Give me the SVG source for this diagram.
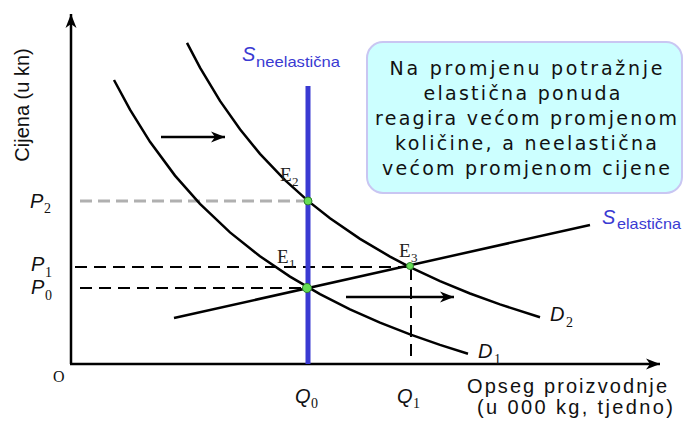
<svg xmlns="http://www.w3.org/2000/svg" width="685" height="421" viewBox="0 0 685 421">
<style>
.ax{stroke:#000;stroke-width:2.5;fill:none}
.curve{stroke:#000;stroke-width:2.5;fill:none}
.dash{stroke:#000;stroke-width:2;stroke-dasharray:12 7;fill:none}
.gdash{stroke:#b0b0b0;stroke-width:3;stroke-dasharray:12 6;fill:none}
.lab{font-family:"Liberation Sans",Arial,sans-serif;font-style:italic;font-size:20px;fill:#111}
.sub{font-family:"Liberation Serif","Times New Roman",serif;font-size:14px;fill:#111}
.e{font-family:"Liberation Serif","Times New Roman",serif;font-size:19px;fill:#222}
.esub{font-family:"Liberation Serif","Times New Roman",serif;font-size:13px;fill:#222}
.blue{font-family:"Liberation Sans",Arial,sans-serif;fill:#3a3ad2}
.ttl{font-family:"Liberation Sans",Arial,sans-serif;font-size:20px;fill:#111}
.box{font-family:"DejaVu Sans","Noto Sans",sans-serif;font-size:19px;fill:#111;text-anchor:middle}
.dot{fill:#66dd55;stroke:#2f7f2f;stroke-width:1}
</style>
<defs>
<marker id="ah" markerUnits="userSpaceOnUse" markerWidth="16" markerHeight="12" refX="14" refY="6" orient="auto">
<path d="M0,0.5 L14,6 L0,11.5 L4,6 Z" fill="#000"/>
</marker>
</defs>

<g id="axes">
<line class="ax" x1="71" y1="364" x2="71" y2="14" marker-end="url(#ah)"/>
<line class="ax" x1="70" y1="364" x2="660" y2="364" marker-end="url(#ah)"/>
<text x="53" y="382" style="font-family:'Liberation Serif',serif;font-size:16px;fill:#111">O</text>
<text class="ttl" transform="translate(29,105) rotate(-90)" text-anchor="middle">Cijena (u kn)</text>
<text class="ttl" x="467" y="393" font-size="22" textLength="200" lengthAdjust="spacing">Opseg proizvodnje</text>
<text class="ttl" x="477" y="414" font-size="22" textLength="196" lengthAdjust="spacing">(u 000 kg, tjedno)</text>
</g>

<g id="guides">
<line class="gdash" x1="80" y1="201" x2="305" y2="201"/>
<line class="dash" x1="75" y1="267" x2="410" y2="267"/>
<line class="dash" x1="80" y1="288" x2="305" y2="288"/>
<line class="dash" x1="411" y1="268" x2="411" y2="364"/>
</g>

<g id="D1">
<path class="curve" d="M114,80 L130,109.7 L150,141.8 L175,175.6 L200,203.9 L230,232.4 L260,256.3 L290,276.6 L320,294.1 L350,309.3 L380,322.6 L410,334.4 L440,344.9 L468,353.7"/>
<text class="lab" x="478" y="358">D</text><text class="sub" x="494" y="364">1</text>
</g>

<g id="D2">
<path class="curve" d="M187,42.8 L200,67.7 L220,100.9 L240,129.3 L260,153.8 L285,180.1 L308,200.9 L330,218.3 L360,238.9 L390,256.6 L410,267.1 L440,281.1 L470,293.5 L500,304.4 L540,317.3"/>
<text class="lab" x="550" y="321">D</text><text class="sub" x="566" y="327">2</text>
</g>

<g id="S_elasticna">
<line class="curve" x1="174" y1="318" x2="590" y2="225"/>
<text class="blue" x="602" y="224" font-size="20" font-style="italic">S</text>
<text class="blue" x="617" y="229" font-size="15" textLength="64" lengthAdjust="spacingAndGlyphs">elastična</text>
</g>

<g id="S_neelasticna">
<line x1="308" y1="86" x2="308" y2="364" stroke="#3a3ad2" stroke-width="5"/>
<text class="blue" x="242" y="61" font-size="20" font-style="italic">S</text>
<text class="blue" x="256" y="67" font-size="15" textLength="84" lengthAdjust="spacingAndGlyphs">neelastična</text>
</g>

<g id="E2">
<circle class="dot" cx="308" cy="201" r="4"/>
<text class="e" x="280" y="181">E</text><text class="esub" x="292" y="186">2</text>
</g>
<g id="E1">
<circle class="dot" cx="307" cy="288" r="4.5"/>
<text class="e" x="277" y="263">E</text><text class="esub" x="289" y="268">1</text>
</g>
<g id="E3">
<circle class="dot" cx="410" cy="266" r="3.5"/>
<text class="e" x="399" y="257">E</text><text class="esub" x="411" y="262">3</text>
</g>

<g id="P_labels">
<text class="lab" x="30" y="208">P</text><text class="sub" x="44" y="213">2</text>
<text class="lab" x="31" y="271">P</text><text class="sub" x="45" y="277">1</text>
<text class="lab" x="31" y="294">P</text><text class="sub" x="45" y="300">0</text>
</g>
<g id="Q_labels">
<text class="lab" x="295" y="403">Q</text><text class="sub" x="311" y="408">0</text>
<text class="lab" x="397" y="403">Q</text><text class="sub" x="413" y="408">1</text>
</g>

<g id="connectors">
<line class="curve" stroke-width="2" x1="161" y1="137" x2="225" y2="137" marker-end="url(#ah)"/>
<line class="curve" stroke-width="2" x1="346" y1="297" x2="454" y2="297" marker-end="url(#ah)"/>
</g>

<g id="note">
<rect x="367" y="42" width="315" height="151" rx="16" fill="#ccffff" stroke="#c9c6f2" stroke-width="2"/>
<text class="box" x="526" y="75" textLength="273" lengthAdjust="spacing">Na promjenu potražnje</text>
<text class="box" x="522" y="100" textLength="197" lengthAdjust="spacing">elastična ponuda</text>
<text class="box" x="526" y="125" textLength="302" lengthAdjust="spacing">reagira većom promjenom</text>
<text class="box" x="526" y="150" textLength="262" lengthAdjust="spacing">količine, a neelastična</text>
<text class="box" x="526" y="175" textLength="288" lengthAdjust="spacing">većom promjenom cijene</text>
</g>
</svg>
